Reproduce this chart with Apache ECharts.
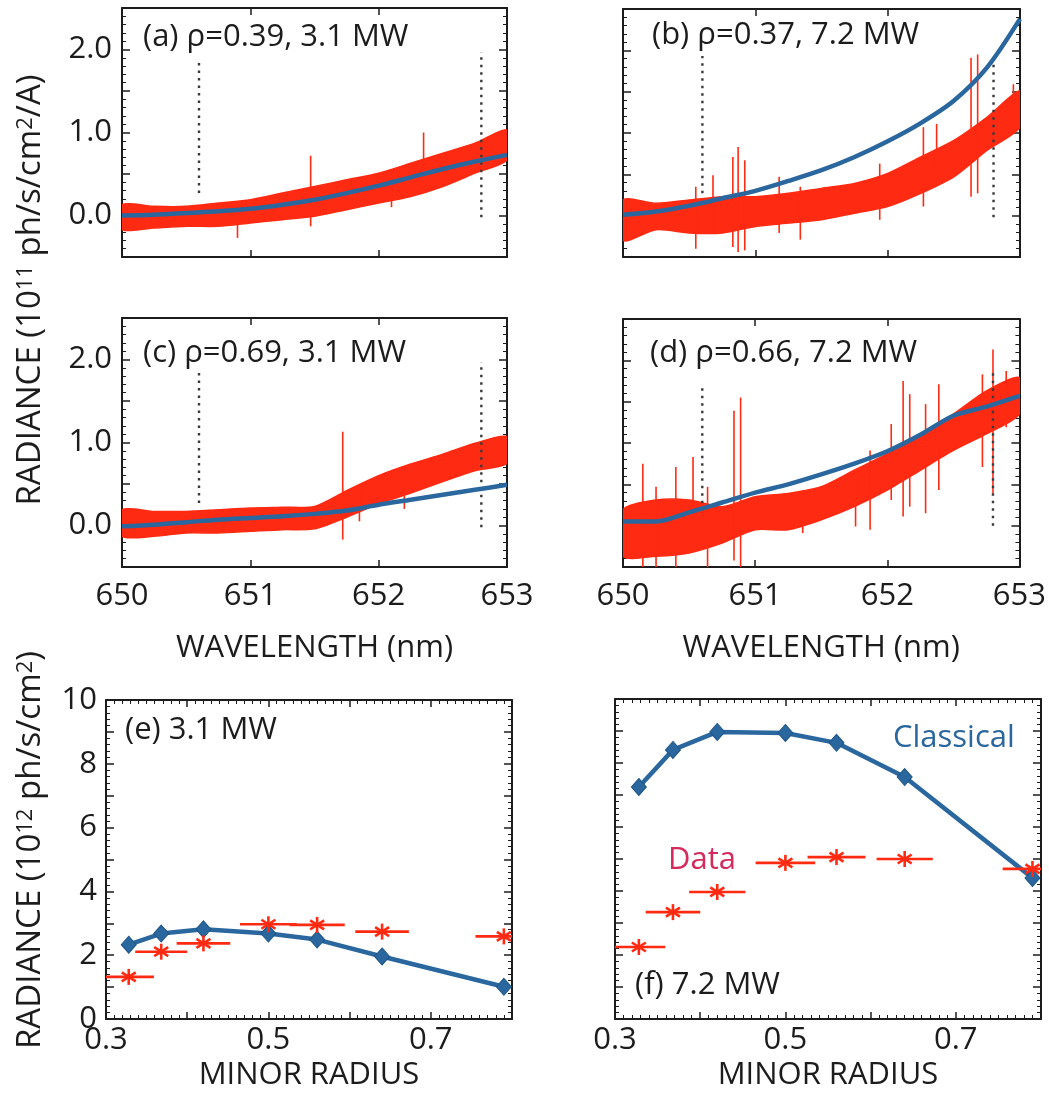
<!DOCTYPE html>
<html>
<head>
<meta charset="utf-8">
<script src="https://cdn.jsdelivr.net/npm/echarts@6/dist/echarts.min.js"></script>
<style>
  html, body { margin: 0; padding: 0; background: #ffffff; }
  #chart { width: 1049px; height: 1098px; }
</style>
</head>
<body>
<div id="chart"></div>
<script>
// ---------------------------------------------------------------
// Spectra: wavelengths (nm) at which band edges and model are sampled
// ---------------------------------------------------------------
const bandWl = [650.00, 650.25, 650.50, 650.75, 651.00, 651.25, 651.50,
                651.75, 652.00, 652.25, 652.50, 652.75, 653.00];

// (a) rho=0.39, 3.1 MW : measured noise band (lower / upper) and model
const bandLoA = [-0.17, -0.15, -0.13, -0.13, -0.09, -0.05, -0.01, 0.07, 0.15, 0.23, 0.35, 0.51, 0.67];
const bandHiA = [ 0.13,  0.11,  0.11,  0.15,  0.19,  0.27,  0.35, 0.43, 0.51, 0.63, 0.75, 0.87, 1.03];
const modelA  = [ 0.00,  0.01,  0.03,  0.05,  0.08,  0.13,  0.19, 0.27, 0.36, 0.46, 0.56, 0.65, 0.73];
const spikesA = [[650.90, -0.27, 0.08], [651.47, -0.13, 0.72], [652.35, 0.30, 1.00], [652.10, 0.10, 0.40]];
const markA   = [[650.60, 0.27, 1.85], [652.80, -0.02, 1.97]];

// (b) rho=0.37, 7.2 MW
const bandLoB = [-0.30, -0.17, -0.21, -0.21, -0.13, -0.09, -0.05, 0.03, 0.11, 0.27, 0.47, 0.79, 1.07];
const bandHiB = [ 0.19,  0.15,  0.19,  0.23,  0.23,  0.27,  0.33, 0.39, 0.51, 0.71, 0.91, 1.19, 1.51];
const modelB  = [ 0.01,  0.05,  0.12,  0.21,  0.30,  0.42,  0.55, 0.71, 0.90, 1.12, 1.39, 1.79, 2.38];
const spikesB = [[650.55, -0.40, 0.35], [650.68, -0.21, 0.49], [650.83, -0.38, 0.71], [650.87, -0.44, 0.83],
                 [650.92, -0.42, 0.67], [651.18, -0.21, 0.47], [651.34, -0.29, 0.35], [651.94, -0.05, 0.63],
                 [652.27, 0.11, 1.07], [652.37, 0.51, 1.11], [652.63, 0.23, 1.91], [652.68, 0.27, 1.95],
                 [652.95, 0.99, 1.59]];
const markB   = [[650.60, 0.27, 1.93], [652.80, -0.02, 1.87]];

// (c) rho=0.69, 3.1 MW
const bandLoC = [-0.13, -0.13, -0.09, -0.09, -0.07, -0.05, -0.04, 0.10, 0.26, 0.39, 0.53, 0.66, 0.75];
const bandHiC = [ 0.19,  0.17,  0.17,  0.19,  0.21,  0.22,  0.23, 0.42, 0.60, 0.74, 0.86, 0.99, 1.07];
const modelC  = [-0.01,  0.01,  0.04,  0.07,  0.09,  0.11,  0.14, 0.18, 0.25, 0.31, 0.37, 0.43, 0.49];
const spikesC = [[651.72, -0.17, 1.13], [651.85, 0.05, 0.45], [652.20, 0.20, 0.55]];
const markC   = [[650.60, 0.27, 1.87], [652.80, -0.02, 1.97]];

// (d) rho=0.66, 7.2 MW
const bandLoD = [-0.37, -0.37, -0.33, -0.21, -0.05, -0.05, 0.07, 0.23, 0.43, 0.67, 0.91, 1.11, 1.35];
const bandHiD = [ 0.19,  0.31,  0.31,  0.23,  0.35,  0.39, 0.47, 0.67, 0.87, 1.11, 1.35, 1.63, 1.79];
const modelD  = [ 0.05,  0.05,  0.16,  0.28,  0.40,  0.50, 0.62, 0.75, 0.90, 1.10, 1.33, 1.44, 1.57];
const spikesD = [[650.15, -0.50, 0.75], [650.25, -0.50, 0.47], [650.40, -0.50, 0.71], [650.53, -0.09, 0.83],
                 [650.64, -0.50, 0.47], [650.84, -0.42, 1.39], [650.89, -0.50, 1.55], [651.36, -0.09, 0.43],
                 [651.76, -0.01, 0.55], [651.87, -0.05, 0.91], [652.03, 0.31, 1.23], [652.12, 0.11, 1.75],
                 [652.17, 0.23, 1.59], [652.29, 0.15, 1.47], [652.39, 0.43, 1.71], [652.72, 0.71, 1.83],
                 [652.80, 0.39, 2.13], [652.90, 1.19, 1.87]];
const markD   = [[650.60, 0.27, 1.72], [652.80, 0.00, 1.90]];

// ---------------------------------------------------------------
// Radial profiles (10^12 ph/s/cm^2) versus minor radius
// ---------------------------------------------------------------
const radius      = [0.328, 0.368, 0.420, 0.500, 0.560, 0.640, 0.790];
const radiusErr   = [0.031, 0.032, 0.033, 0.035, 0.034, 0.033, 0.035];
const classical31 = [2.33, 2.68, 2.81, 2.68, 2.49, 1.96, 1.01];
const data31      = [1.32, 2.11, 2.37, 2.97, 2.95, 2.74, 2.59];
const classical72 = [7.25, 8.41, 8.97, 8.94, 8.63, 7.56, 4.41];
const data72      = [2.25, 3.34, 3.97, 4.88, 5.06, 5.00, 4.69];

// Axis tick settings
const wlTicks     = { min: 650, max: 653, interval: 1 };
const radTicksY   = { min: -0.5, max: 2.5, interval: 0.5 };
const rTicks      = { min: 0.3, max: 0.8, interval: 0.1 };
const profTicksY  = { min: 0, max: 10, interval: 1 };

// ---------------------------------------------------------------
const FONT = '"Open Sans", "DejaVu Sans", sans-serif';
const INK  = '#1c1c1c';
const RED  = '#ff2a12';
const BLUE = '#2a679e';
const PINK = '#d42a5c';

const grids = [
  { left: 122, top: 8,   width: 385, height: 249 },   // a
  { left: 623, top: 9,   width: 397, height: 248 },   // b
  { left: 122, top: 318, width: 385, height: 249 },   // c
  { left: 623, top: 319, width: 397, height: 248 },   // d
  { left: 106, top: 700, width: 406, height: 319 },   // e
  { left: 615, top: 699, width: 426, height: 320 }    // f
];

const fmtRadiance = v => (Math.abs(v - Math.round(v)) < 1e-6 ? v.toFixed(1) : '');
const fmtProfile  = v => (Math.round(v) % 2 === 0 ? String(Math.round(v)) : '');
const fmtRadius   = v => { const k = Math.round(v * 10); return k % 2 === 1 ? (k / 10).toFixed(1) : ''; };

function axisCommon(ticks, minorSplit, majorLen) {
  return {
    type: 'value', min: ticks.min, max: ticks.max, interval: ticks.interval,
    axisLine: { show: true, onZero: false, lineStyle: { color: INK, width: 2 } },
    axisTick: { show: true, inside: true, length: majorLen, lineStyle: { color: INK, width: 1.5 } },
    minorTick: { show: minorSplit > 0, splitNumber: minorSplit || 5, length: 4, lineStyle: { color: INK, width: 1 } },
    splitLine: { show: false },
    minorSplitLine: { show: false }
  };
}

function labelStyle(show, formatter, margin) {
  return { show, formatter, margin, fontSize: 31, fontFamily: FONT, color: INK };
}

const xAxes = [], yAxes = [];
function addAxes(g, xt, xMinor, yt, yMinor, xLab, yLab, xFmt, yFmt, xName, xNameGap, xMargin, yMargin) {
  xAxes.push(Object.assign(axisCommon(xt, xMinor, 7), {
    gridIndex: g, position: 'bottom',
    axisLabel: labelStyle(xLab, xFmt, xMargin),
    name: xName || '', nameLocation: 'middle', nameGap: xNameGap || 0,
    nameTextStyle: { fontSize: 31, fontFamily: FONT, color: INK }
  }));
  xAxes.push(Object.assign(axisCommon(xt, xMinor, 7), {
    gridIndex: g, position: 'top', axisLabel: { show: false }
  }));
  yAxes.push(Object.assign(axisCommon(yt, yMinor, 8), {
    gridIndex: g, position: 'left',
    axisLabel: labelStyle(yLab, yFmt, yMargin)
  }));
  yAxes.push(Object.assign(axisCommon(yt, yMinor, 8), {
    gridIndex: g, position: 'right', axisLabel: { show: false }
  }));
}

const wlFmt = v => String(Math.round(v));
addAxes(0, wlTicks, 0, radTicksY, 5, false, true,  wlFmt, fmtRadiance, '', 0, 14, 10);
addAxes(1, wlTicks, 0, radTicksY, 5, false, false, wlFmt, fmtRadiance, '', 0, 14, 10);
addAxes(2, wlTicks, 0, radTicksY, 5, true,  true,  wlFmt, fmtRadiance, 'WAVELENGTH (nm)', 66, 14, 10);
addAxes(3, wlTicks, 0, radTicksY, 5, true,  false, wlFmt, fmtRadiance, 'WAVELENGTH (nm)', 66, 14, 10);
addAxes(4, rTicks, 10, profTicksY, 5, true, true,  fmtRadius, fmtProfile, 'MINOR RADIUS', 41, 6, 9);
addAxes(5, rTicks, 10, profTicksY, 5, true, false, fmtRadius, fmtProfile, 'MINOR RADIUS', 41, 6, 9);

// ---------------------------------------------------------------
// Series builders
// ---------------------------------------------------------------
// Noise band: one closed, lightly smoothed polygon through the lower edge
// (left to right) and the upper edge (right to left).
function bandSeries(g, lo, hi) {
  return {
    type: 'custom', xAxisIndex: 2 * g, yAxisIndex: 2 * g, clip: true, silent: true, z: 2,
    data: bandWl.map((w, i) => [w, lo[i], hi[i]]),
    renderItem(params, api) {
      if (params.dataIndexInside !== 0) return null;
      const n = params.dataInsideLength;
      const lower = [], upper = [];
      for (let i = 0; i < n; i++) {
        lower.push(api.coord([api.value(0, i), api.value(1, i)]));
        upper.push(api.coord([api.value(0, i), api.value(2, i)]));
      }
      const pts = lower.concat(upper.reverse());
      return {
        type: 'polygon',
        shape: { points: pts, smooth: 0.25 },
        style: { fill: RED, stroke: RED, lineWidth: 1.5 }
      };
    }
  };
}

function segmentSeries(g, rows, style, z) {
  return {
    type: 'custom', xAxisIndex: 2 * g, yAxisIndex: 2 * g, clip: true, silent: true, z,
    data: rows,
    renderItem(params, api) {
      const p0 = api.coord([api.value(0), api.value(1)]);
      const p1 = api.coord([api.value(0), api.value(2)]);
      return { type: 'line', shape: { x1: p0[0], y1: p0[1], x2: p1[0], y2: p1[1] }, style };
    }
  };
}

function modelSeries(g, vals) {
  return {
    type: 'line', xAxisIndex: 2 * g, yAxisIndex: 2 * g, z: 5, silent: true,
    data: bandWl.map((w, i) => [w, vals[i]]),
    smooth: 0.3, showSymbol: false, symbol: 'none',
    lineStyle: { color: BLUE, width: 4.5 }
  };
}

function spectrumPanel(g, lo, hi, model, spikes, marks) {
  return [
    bandSeries(g, lo, hi),
    segmentSeries(g, spikes, { stroke: RED, lineWidth: 1.6 }, 3),
    segmentSeries(g, marks, { stroke: '#3a3a3a', lineWidth: 2.4, lineDash: [2.5, 5] }, 4),
    modelSeries(g, model)
  ];
}

function classicalSeries(g, vals) {
  return {
    type: 'line', xAxisIndex: 2 * g, yAxisIndex: 2 * g, z: 4, silent: true,
    data: radius.map((r, i) => [r, vals[i]]),
    symbol: 'diamond', symbolSize: [15, 17], showSymbol: true,
    itemStyle: { color: BLUE, borderColor: '#1f5686', borderWidth: 1 },
    lineStyle: { color: BLUE, width: 4.5 }
  };
}

function measuredSeries(g, vals) {
  return {
    type: 'custom', xAxisIndex: 2 * g, yAxisIndex: 2 * g, clip: true, silent: true, z: 5,
    data: radius.map((r, i) => [r, vals[i], radiusErr[i]]),
    renderItem(params, api) {
      const x = api.value(0), y = api.value(1), e = api.value(2);
      const c = api.coord([x, y]);
      const l = api.coord([x - e, y]);
      const r = api.coord([x + e, y]);
      const s = 8, d = 7, h = 4.5;
      const st = { stroke: RED, lineWidth: 2.6 };
      return {
        type: 'group',
        children: [
          { type: 'line', shape: { x1: l[0], y1: l[1], x2: r[0], y2: r[1] }, style: st },
          { type: 'line', shape: { x1: c[0], y1: c[1] - s, x2: c[0], y2: c[1] + s }, style: st },
          { type: 'line', shape: { x1: c[0] - d, y1: c[1] - h, x2: c[0] + d, y2: c[1] + h }, style: st },
          { type: 'line', shape: { x1: c[0] - d, y1: c[1] + h, x2: c[0] + d, y2: c[1] - h }, style: st }
        ]
      };
    }
  };
}

const series = [].concat(
  spectrumPanel(0, bandLoA, bandHiA, modelA, spikesA, markA),
  spectrumPanel(1, bandLoB, bandHiB, modelB, spikesB, markB),
  spectrumPanel(2, bandLoC, bandHiC, modelC, spikesC, markC),
  spectrumPanel(3, bandLoD, bandHiD, modelD, spikesD, markD),
  [classicalSeries(4, classical31), measuredSeries(4, data31)],
  [classicalSeries(5, classical72), measuredSeries(5, data72)]
);

// ---------------------------------------------------------------
// Panel captions and shared axis titles
// ---------------------------------------------------------------
function caption(text, x, y, color) {
  return {
    type: 'text', x, y, silent: true, z: 10,
    style: { text, fill: color || INK, fontSize: 31, fontFamily: FONT, align: 'left', verticalAlign: 'middle' }
  };
}

function yTitle(parts, x, y) {
  return {
    type: 'text', x, y, rotation: Math.PI / 2, silent: true, z: 10,
    style: {
      text: parts, align: 'center', verticalAlign: 'middle', fill: INK,
      fontSize: 33, fontFamily: FONT,
      rich: {
        n: { fontSize: 33, fontFamily: FONT, fill: INK },
        s: { fontSize: 22, fontFamily: FONT, fill: INK, verticalAlign: 'top' }
      }
    }
  };
}

const graphics = [
  caption('(a) \u03c1=0.39, 3.1 MW', 143, 37),
  caption('(b) \u03c1=0.37, 7.2 MW', 652, 35),
  caption('(c) \u03c1=0.69, 3.1 MW', 143, 353),
  caption('(d) \u03c1=0.66, 7.2 MW', 650, 353),
  caption('(e) 3.1 MW', 125, 730),
  caption('(f) 7.2 MW', 635, 985),
  caption('Classical', 893, 738, BLUE),
  caption('Data', 668, 860, PINK),
  yTitle('{n|RADIANCE (10}{s|11}{n| ph/s/cm}{s|2}{n|/A)}', 31, 290),
  yTitle('{n|RADIANCE (10}{s|12}{n| ph/s/cm}{s|2}{n|)}', 31, 850)
];

const chart = echarts.init(document.getElementById('chart'), null, { renderer: 'canvas' });
chart.setOption({
  backgroundColor: '#ffffff',
  animation: false,
  textStyle: { fontFamily: FONT },
  grid: grids.map(g => Object.assign({ containLabel: false }, g)),
  xAxis: xAxes,
  yAxis: yAxes,
  series,
  graphic: graphics
});
</script>
</body>
</html>
